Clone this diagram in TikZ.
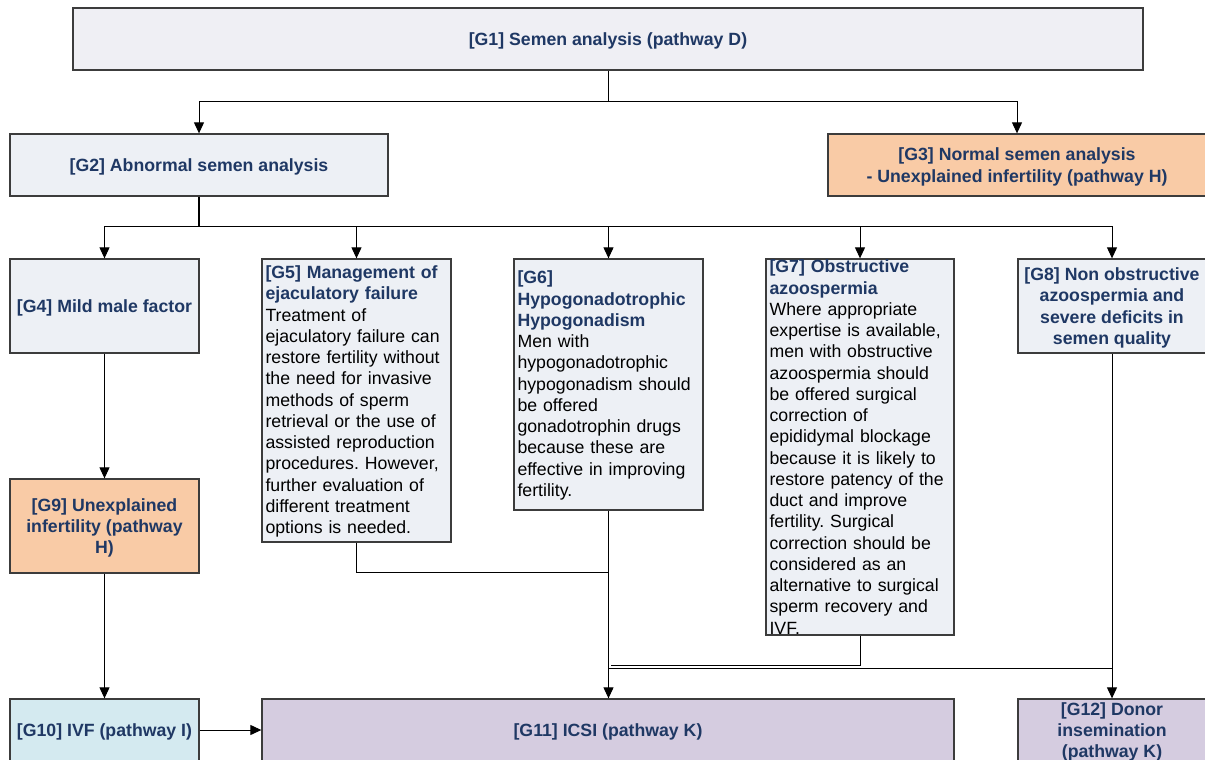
\documentclass[tikz,border=0pt]{standalone}
\usepackage{fontspec}
\setmainfont{Liberation Sans}
\usetikzlibrary{arrows.meta}
\definecolor{navy}{RGB}{31,56,100}
\definecolor{fillA}{RGB}{239,239,244}
\definecolor{fillB}{RGB}{237,240,245}
\definecolor{peach}{RGB}{249,203,166}
\definecolor{cyanbox}{RGB}{212,234,240}
\definecolor{lav}{RGB}{213,204,224}
\definecolor{bordercol}{RGB}{60,60,60}
\newcommand\ttl[1]{\textcolor{navy}{\bfseries #1}}
\frenchspacing
\begin{document}
\frenchspacing
\begin{tikzpicture}[x=1pt,y=-1pt,
  every node/.style={font=\fontsize{17.7}{21.25}\selectfont},
  box/.style={draw=bordercol, line width=1.3pt, inner sep=0pt, rectangle},
  ctitle/.style={font=\fontsize{17.7}{21.25}\selectfont\bfseries, text=navy, align=center, inner sep=0pt, yshift=-2pt},
  para/.style={anchor=west, text width=190pt, align=left, inner sep=0pt, font=\fontsize{17.7}{21.25}\selectfont\frenchspacing},
  conn/.style={draw=black, line width=1pt},
  arr/.style={conn, -{Triangle[width=10pt,length=11pt]}},
  thick conn/.style={draw=black, line width=1.6pt}
]
\useasboundingbox (0,0) rectangle (1205,760);

% boxes
\node[box, fill=fillA, minimum width=1070, minimum height=62] (g1) at (608,39) {};
\node[box, fill=fillB, minimum width=378, minimum height=62] (g2) at (199,165) {};
\node[box, fill=peach, minimum width=378, minimum height=62] (g3) at (1017,165) {};
\node[box, fill=fillB, minimum width=189, minimum height=94] (g4) at (104.5,306) {};
\node[box, fill=fillB, minimum width=189, minimum height=283] (g5) at (356.5,400.5) {};
\node[box, fill=fillB, minimum width=189, minimum height=251] (g6) at (608.5,384.5) {};
\node[box, fill=fillB, minimum width=188, minimum height=376] (g7) at (860,447) {};
\node[box, fill=fillB, minimum width=188, minimum height=94] (g8) at (1112,306) {};
\node[box, fill=peach, minimum width=189, minimum height=94] (g9) at (104.5,526) {};
\node[box, fill=cyanbox, minimum width=189, minimum height=62] (g10) at (104.5,730) {};
\node[box, fill=lav, minimum width=692, minimum height=62] (g11) at (608,730) {};
\node[box, fill=lav, minimum width=188, minimum height=62] (g12) at (1112,730) {};

% centred titles
\node[ctitle] (t1) at (g1.center) {[G1] Semen analysis (pathway D)};
\node[ctitle] (t2) at (g2.center) {[G2] Abnormal semen analysis};
\node[ctitle] (t3) at (g3.center) {[G3] Normal semen analysis\\- Unexplained infertility (pathway H)};
\node[ctitle] (t4) at (g4.center) {[G4] Mild male factor};
\node[ctitle] (t8) at (g8.center) {[G8] Non obstructive\\azoospermia and\\severe deficits in\\semen quality};
\node[ctitle] (t9) at (g9.center) {[G9] Unexplained\\infertility (pathway\\H)};
\node[ctitle] (t10) at (g10.center) {[G10] IVF (pathway I)};
\node[ctitle] (t11) at (g11.center) {[G11] ICSI (pathway K)};
\node[ctitle] (t12) at (g12.center) {[G12] Donor\\insemination\\(pathway K)};

% paragraph texts
\node[para] (t5) at ([xshift=4pt,yshift=-1pt]g5.west) {\ttl{[G5] Management of}\\\ttl{ejaculatory failure}\\Treatment of\\ejaculatory failure can\\restore fertility without\\the need for invasive\\methods of sperm\\retrieval or the use of\\assisted reproduction\\procedures. However,\\further evaluation of\\different treatment\\options is needed.};
\node[para] (t6) at ([xshift=4pt,yshift=-1pt]g6.west) {\ttl{[G6]}\\\ttl{Hypogonadotrophic}\\\ttl{Hypogonadism}\\Men with\\hypogonadotrophic\\hypogonadism should\\be offered\\gonadotrophin drugs\\because these are\\effective in improving\\fertility.};
\node[para] (t7) at ([xshift=4pt]g7.west) {\ttl{[G7] Obstructive}\\\ttl{azoospermia}\\Where appropriate\\expertise is available,\\men with obstructive\\azoospermia should\\be offered surgical\\correction of\\epididymal blockage\\because it is likely to\\restore patency of the\\duct and improve\\fertility. Surgical\\correction should be\\considered as an\\alternative to surgical\\sperm recovery and\\IVF.};

% connectors
\draw[conn] (g1.south) -- ++(0,31) coordinate (j1);
\draw[arr] (j1) -| (g2.north);
\draw[arr] (j1) -| (g3.north);
\draw[thick conn] (g2.south) -- ++(0,30) coordinate (j2);
\draw[arr] (j2) -| (g4.north);
\draw[arr] (j2) -| (g5.north);
\draw[arr] (j2) -| (g6.north);
\draw[arr] (j2) -| (g7.north);
\draw[arr] (j2) -| (g8.north);
\draw[arr] (g4.south) -- (g9.north);
\draw[arr] (g9.south) -- (g10.north);
\draw[arr] (g10.east) -- (g11.west);
\coordinate (h5) at (608.5,572);
\coordinate (h7) at (610.5,665);
\coordinate (h8) at (608.5,668);
\draw[conn] (g5.south) |- (h5);
\draw[arr] (g6.south) -- (g6.south |- g11.north);
\draw[conn] (g7.south) |- (h7);
\draw[arr] (g8.south) -- (g8.south |- g12.north);
\draw[conn] (g8.south |- h8) -- (h8);
\end{tikzpicture}
\end{document}
